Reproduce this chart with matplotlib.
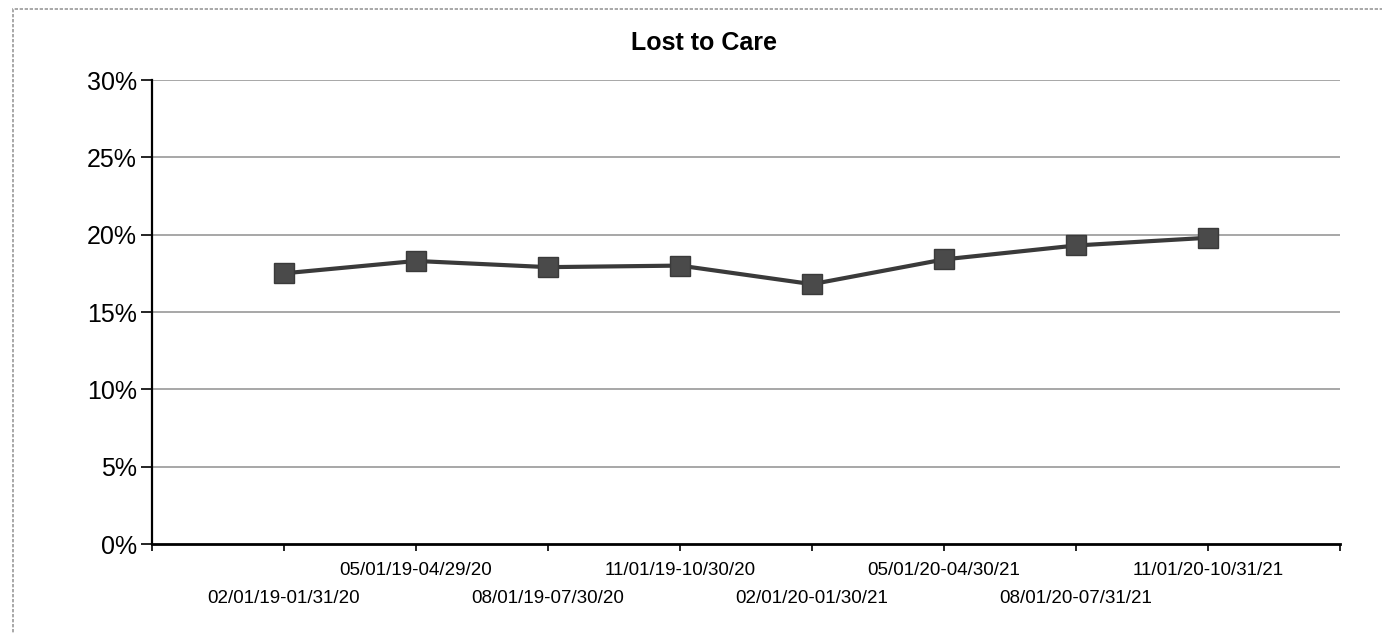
import matplotlib
matplotlib.use("Agg")
import matplotlib.pyplot as plt
from matplotlib.patches import Rectangle

# data
periods = [
    "02/01/19-01/31/20",
    "05/01/19-04/29/20",
    "08/01/19-07/30/20",
    "11/01/19-10/30/20",
    "02/01/20-01/30/21",
    "05/01/20-04/30/21",
    "08/01/20-07/31/21",
    "11/01/20-10/31/21",
]
lost_to_care = [0.175, 0.183, 0.179, 0.180, 0.168, 0.184, 0.193, 0.198]
y_ticks = [0.0, 0.05, 0.10, 0.15, 0.20, 0.25, 0.30]
y_labels = ["0%", "5%", "10%", "15%", "20%", "25%", "30%"]


def main():
    plt.rcParams["font.family"] = ["Liberation Sans", "DejaVu Sans"]

    fig = plt.figure(figsize=(13.82, 6.34), dpi=100)
    ax = fig.add_axes([152 / 1382, 1 - 544 / 634, (1340 - 152) / 1382, (544 - 80) / 634])

    # outer chart frame (dotted, runs off right and bottom)
    fig.patches.append(Rectangle((13 / 1382, -0.05), 1.1, 0.05 + (1 - 9 / 634),
                                 transform=fig.transFigure, fill=False,
                                 edgecolor="#9a9a9a", linewidth=1.2,
                                 linestyle=(0, (2, 1)), zorder=0))

    x = list(range(1, len(periods) + 1))
    ax.plot(x, lost_to_care, color="#3a3a3a", linewidth=3, marker="s",
            markersize=14, markerfacecolor="#4a4a4a", markeredgecolor="#3a3a3a",
            zorder=3, clip_on=False)

    ax.set_xlim(0, len(periods) + 1)
    ax.set_ylim(0, 0.30)

    # y axis
    ax.set_yticks(y_ticks, y_labels)
    ax.tick_params(axis="y", length=8, width=1.2, pad=3, labelsize=18, direction="out")
    for yv in y_ticks[1:]:
        ax.axhline(yv, color="#8f8f8f", linewidth=1.1, zorder=1)

    # x axis: tick marks at category boundaries, staggered labels
    ax.xaxis.remove_overlapping_locs = False
    upper = [lbl if i % 2 == 1 else "" for i, lbl in enumerate(periods)]
    ax.set_xticks(range(0, len(periods) + 2), [""] + upper + [""])
    ax.set_xticks(x[::2], periods[::2], minor=True)
    ax.tick_params(axis="x", which="major", length=5, width=1.2, pad=8, labelsize=13.5)
    ax.tick_params(axis="x", which="minor", length=0, pad=33, labelsize=13.5)

    for side in ["top", "right"]:
        ax.spines[side].set_visible(False)
    ax.spines["left"].set_linewidth(1.6)
    ax.spines["bottom"].set_linewidth(2)

    fig.text(704 / 1382, 1 - 43 / 634, "Lost to Care", ha="center", va="center",
             fontsize=18, fontweight="bold")

    fig.savefig("out.png", dpi=100)
    plt.close(fig)


if __name__ == "__main__":
    main()
